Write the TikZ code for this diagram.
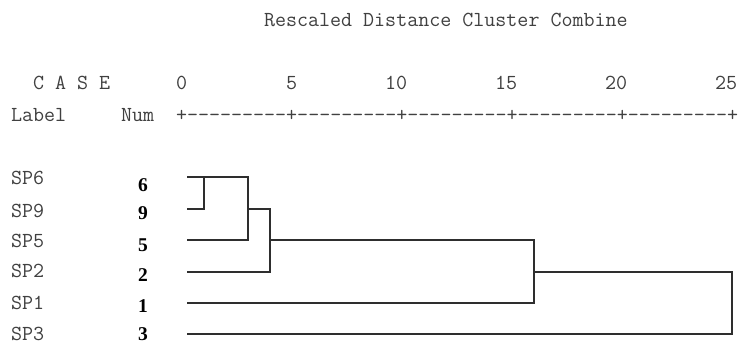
\documentclass[tikz,border=0pt]{standalone}
\usepackage{fontspec}
\newfontfamily\numfont{Liberation Serif}
\begin{document}
\begin{tikzpicture}[x=1pt,y=-1pt,
  mono/.style={inner sep=0pt,outer sep=0pt,anchor=base west,text=black!75,
    font=\ttfamily\fontsize{21.4pt}{23pt}\selectfont},
  casenum/.style={inner sep=0pt,outer sep=0pt,anchor=base,text=black,
    font=\numfont\bfseries\fontsize{19.5pt}{22pt}\selectfont},
  dend/.style={draw=black!82,line width=1.4pt,line join=miter,line cap=rect}]
\useasboundingbox[fill=white] (0,0) rectangle (739,344);
% header
\node[mono] (title) at (264,27) {Rescaled Distance Cluster Combine};
\node[mono] (case) at (33,90) {C A S E};
\node[mono] (t0) at (176,90) {0};
\node[mono] (t5) at (286,90) {5};
\node[mono] (t10) at (385,90) {10};
\node[mono] (t15) at (495,90) {15};
\node[mono] (t20) at (605,90) {20};
\node[mono] (t25) at (715,90) {25};
\node[mono] (lab) at (11,122) {Label};
\node[mono] (num) at (121,122) {Num};
\node[mono] (axis) at (176,122) {+---------+---------+---------+---------+---------+};
% case labels
\node[mono] (sp6) at (11,185) {SP6};
\node[mono] (sp9) at (11,218) {SP9};
\node[mono] (sp5) at (11,248) {SP5};
\node[mono] (sp2) at (11,278) {SP2};
\node[mono] (sp1) at (11,310) {SP1};
\node[mono] (sp3) at (11,340.5) {SP3};
% case numbers
\node[casenum] (n6) at (143,191.5) {6};
\node[casenum] (n9) at (143,220) {9};
\node[casenum] (n5) at (143,251.5) {5};
\node[casenum] (n2) at (143,282) {2};
\node[casenum] (n1) at (143,312.5) {1};
\node[casenum] (n3) at (143,341) {3};
% leaf start points
\coordinate (l6) at (188,177);
\coordinate (l9) at (188,209);
\coordinate (l5) at (188,240);
\coordinate (l2) at (188,272);
\coordinate (l1) at (188,303);
\coordinate (l3) at (188,334);
% merge points
\coordinate (a6) at (204,177);
\coordinate (a9) at (204,209);
\coordinate (b6) at (248,177);
\coordinate (b9) at (248,209);
\coordinate (b5) at (248,240);
\coordinate (c9) at (270,209);
\coordinate (c5) at (270,240);
\coordinate (c2) at (270,272);
\coordinate (d5) at (534,240);
\coordinate (d2) at (534,272);
\coordinate (d1) at (534,303);
\coordinate (e2) at (732,272);
\coordinate (e3) at (732,334);
% dendrogram
\draw[dend] (l9) -- (a9) -- (a6);
\draw[dend] (l6) -- (b6) -- (b5) -- (l5);
\draw[dend] (b9) -- (c9) -- (c2) -- (l2);
\draw[dend] (c5) -- (d5) -- (d1) -- (l1);
\draw[dend] (d2) -- (e2) -- (e3) -- (l3);
\end{tikzpicture}
\end{document}
